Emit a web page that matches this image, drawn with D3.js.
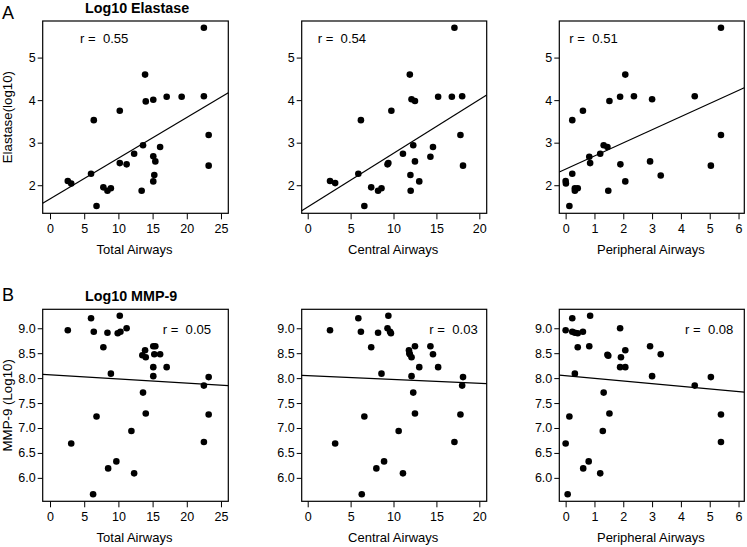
<!DOCTYPE html>
<html>
<head>
<meta charset="utf-8">
<script src="https://cdn.jsdelivr.net/npm/d3@7"></script>
<style>
  html, body { margin: 0; padding: 0; background: #fff; }
  svg { display: block; font-family: "Liberation Sans", Arial, Helvetica, sans-serif; }
</style>
</head>
<body>
<svg id="chart" width="747" height="547"></svg>
<script>
// ---------------- DATA ----------------
const xLabels = ["Total Airways", "Central Airways", "Peripheral Airways"];
const rowTitles = ["Log10 Elastase", "Log10 MMP-9"];
const rowLetters = ["A", "B"];
const yLabels = ["Elastase(log10)", "MMP-9 (Log10)"];

const xTicksTotal = [0, 5, 10, 15, 20, 25];
const xTicksCentral = [0, 5, 10, 15, 20];
const xTicksPeripheral = [0, 1, 2, 3, 4, 5, 6];
const yTicksElastase = [2, 3, 4, 5];
const yTicksMMP = [6.0, 6.5, 7.0, 7.5, 8.0, 8.5, 9.0];

// Elastase panels: [x, y]
const elastaseTotal = [
  [22.5,5.70],[13.9,4.60],[14.0,3.97],[15.1,4.01],[17.06,4.08],[19.25,4.08],[22.5,4.09],
  [10.2,3.75],[6.4,3.53],[23.2,3.18],[13.6,2.94],[16.1,2.90],[12.3,2.74],[15.1,2.68],
  [15.4,2.56],[10.2,2.52],[11.2,2.49],[23.2,2.46],[6.0,2.27],[15.25,2.24],[2.6,2.10],
  [3.1,2.04],[15.1,2.09],[7.8,1.95],[8.4,1.87],[8.9,1.93],[13.4,1.87],[6.8,1.51]
];
const elastaseCentral = [
  [17.1,5.70],[11.9,4.60],[12.1,4.02],[12.5,3.98],[15.2,4.08],[16.8,4.08],[18.0,4.09],
  [9.75,3.75],[6.2,3.53],[17.8,3.18],[12.3,2.94],[14.6,2.90],[11.1,2.74],[14.3,2.67],
  [12.5,2.56],[9.4,2.52],[9.3,2.49],[18.1,2.46],[5.9,2.27],[11.97,2.24],[2.6,2.10],
  [3.2,2.05],[13.0,2.09],[7.4,1.95],[8.2,1.87],[8.6,1.93],[12.0,1.87],[6.6,1.51]
];
const elastasePeripheral = [
  [5.39,5.70],[2.07,4.60],[1.89,4.08],[2.37,4.09],[3.0,4.02],[4.48,4.09],[1.52,3.98],
  [0.6,3.75],[0.23,3.53],[5.39,3.18],[1.32,2.94],[1.45,2.90],[1.2,2.74],[0.82,2.67],
  [0.85,2.52],[1.9,2.49],[2.93,2.56],[3.3,2.23],[5.04,2.46],[0.23,2.27],[0.0,2.10],
  [0.01,2.04],[2.07,2.09],[0.32,1.93],[0.32,1.87],[0.42,1.93],[1.48,1.87],[0.13,1.51]
];

// MMP-9 panels: [x, y]
const mmpTotal = [
  [10.2,9.25],[6.0,9.20],[2.6,8.96],[6.4,8.93],[8.4,8.91],[9.9,8.90],[10.3,8.93],[11.2,9.00],
  [7.8,8.62],[13.9,8.56],[15.1,8.64],[15.4,8.64],[13.5,8.46],[14.0,8.42],[15.25,8.48],[16.1,8.48],
  [15.1,8.22],[17.06,8.22],[15.1,8.04],[8.9,8.09],[23.2,8.02],[22.5,7.85],[13.6,7.71],[6.8,7.23],
  [14.0,7.29],[23.2,7.27],[11.9,6.94],[3.1,6.69],[22.5,6.72],[9.7,6.33],[8.5,6.19],[12.3,6.09],[6.3,5.67]
];
const mmpCentral = [
  [9.4,9.25],[5.9,9.20],[2.6,8.96],[6.2,8.93],[8.2,8.91],[9.3,9.00],[9.7,8.90],[9.6,8.93],
  [7.4,8.62],[11.8,8.56],[12.5,8.64],[14.3,8.64],[11.9,8.48],[14.6,8.48],[12.1,8.42],[13.0,8.22],
  [15.2,8.22],[12.1,8.04],[8.6,8.09],[18.1,8.02],[18.0,7.85],[12.3,7.71],[6.6,7.23],[12.5,7.29],
  [17.8,7.27],[10.6,6.94],[3.2,6.69],[17.1,6.72],[8.9,6.33],[8.0,6.19],[11.1,6.09],[6.3,5.67],[11.85,8.50]
];
const mmpPeripheral = [
  [0.85,9.25],[0.23,9.20],[0.0,8.96],[0.23,8.93],[0.32,8.91],[0.42,8.90],[0.6,8.93],[1.89,9.00],
  [0.42,8.62],[0.82,8.64],[1.45,8.47],[1.48,8.45],[2.07,8.56],[1.92,8.42],[2.93,8.64],[3.3,8.48],
  [1.89,8.22],[2.07,8.22],[3.0,8.04],[0.32,8.09],[5.04,8.02],[4.48,7.85],[1.32,7.71],[0.13,7.23],
  [1.52,7.29],[5.39,7.27],[1.29,6.94],[0.0,6.69],[5.39,6.72],[0.8,6.33],[0.61,6.19],[1.2,6.09],[0.07,5.67]
];

// correlation labels and fitted lines (intercept, slope)
const rValues = [["0.55", "0.54", "0.51"], ["0.05", "0.03", "0.08"]];
const lineIntercepts = [[1.68, 1.49, 2.38], [8.068, 8.051, 8.05]];
const lineSlopes = [[0.0956, 0.126, 0.308], [-0.0084, -0.0078, -0.0533]];

// ---------------- LAYOUT ----------------
const svg = d3.select("#chart");
const FONT = '"Liberation Sans", Arial, Helvetica, sans-serif';

const cols = [
  { x0: 42.7, x1: 228.3, domain: [-1.07, 26.07], ticks: xTicksTotal },
  { x0: 301.7, x1: 486.7, domain: [-0.70, 20.86], ticks: xTicksCentral },
  { x0: 559.3, x1: 744.3, domain: [-0.22, 6.20], ticks: xTicksPeripheral }
];
const rows = [
  { y0: 21, y1: 213.3, domain: [1.34, 5.86], ticks: yTicksElastase, fmt: d3.format("d"),
    data: [elastaseTotal, elastaseCentral, elastasePeripheral],
    rPos: [[80, 42.7], [317.7, 42.7], [569.3, 42.7]], titleX: 85, titleY: 12.7, letterY: 18.5 },
  { y0: 309.3, y1: 501.3, domain: [5.53, 9.38], ticks: yTicksMMP, fmt: d3.format(".1f"),
    data: [mmpTotal, mmpCentral, mmpPeripheral],
    rPos: [[162.7, 334.3], [429.3, 334.3], [685, 334.3]], titleX: 85, titleY: 300.5, letterY: 301 }
];

rows.forEach((row, ri) => {
  svg.append("text").attr("x", 2).attr("y", row.letterY)
    .attr("font-size", 18).attr("font-family", FONT).text(rowLetters[ri]);
  svg.append("text").attr("x", row.titleX).attr("y", row.titleY)
    .attr("font-size", 14.3).attr("font-weight", "bold").attr("font-family", FONT)
    .text(rowTitles[ri]);
  const cy = (row.y0 + row.y1) / 2;
  svg.append("text")
    .attr("transform", `translate(12,${cy}) rotate(-90)`)
    .attr("text-anchor", "middle").attr("font-size", 13.3).attr("font-family", FONT)
    .text(yLabels[ri]);

  cols.forEach((col, ci) => {
    const x = d3.scaleLinear().domain(col.domain).range([col.x0, col.x1]);
    const y = d3.scaleLinear().domain(row.domain).range([row.y1, row.y0]);

    const gx = svg.append("g").attr("transform", `translate(0,${row.y1})`)
      .call(d3.axisBottom(x).tickValues(col.ticks).tickSize(6).tickSizeOuter(0).tickFormat(d3.format("d")));
    gx.select(".domain").remove();
    gx.selectAll("line").attr("stroke", "#000");
    gx.selectAll("text").attr("y", 20).attr("dy", null)
      .attr("font-size", 12.5).attr("font-family", FONT).attr("fill", "#000");

    const gy = svg.append("g").attr("transform", `translate(${col.x0},0)`)
      .call(d3.axisLeft(y).tickValues(row.ticks).tickSize(5).tickSizeOuter(0).tickPadding(2).tickFormat(row.fmt));
    gy.select(".domain").remove();
    gy.selectAll("line").attr("stroke", "#000");
    gy.selectAll("text").attr("font-size", 12.5).attr("font-family", FONT).attr("fill", "#000");

    svg.append("text").attr("x", (col.x0 + col.x1) / 2 - 1).attr("y", row.y1 + 41)
      .attr("text-anchor", "middle").attr("font-size", 13).attr("font-family", FONT)
      .text(xLabels[ci]);

    svg.append("rect").attr("x", col.x0).attr("y", row.y0)
      .attr("width", col.x1 - col.x0).attr("height", row.y1 - row.y0)
      .attr("fill", "none").attr("stroke", "#000").attr("stroke-width", 1.2);

    const b0 = lineIntercepts[ri][ci], b1 = lineSlopes[ri][ci];
    const [d0, d1] = col.domain;
    svg.append("line")
      .attr("x1", x(d0)).attr("y1", y(b0 + b1 * d0))
      .attr("x2", x(d1)).attr("y2", y(b0 + b1 * d1))
      .attr("stroke", "#000").attr("stroke-width", 1.2);

    svg.append("g").selectAll("circle").data(row.data[ci]).join("circle")
      .attr("cx", d => x(d[0])).attr("cy", d => y(d[1])).attr("r", 3.3)
      .attr("fill", "#000");

    svg.append("text").attr("x", row.rPos[ci][0]).attr("y", row.rPos[ci][1])
      .attr("font-size", 13.1).attr("font-family", FONT).attr("xml:space", "preserve")
      .style("white-space", "pre")
      .text("r =  " + rValues[ri][ci]);
  });
});
</script>
</body>
</html>
